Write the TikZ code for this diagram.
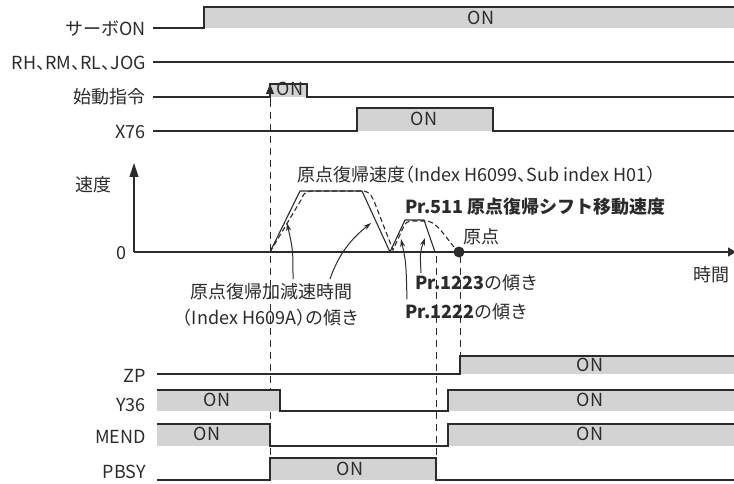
\documentclass[tikz,border=0pt]{standalone}
\usepackage{fontspec}
\setmainfont{Noto Sans CJK JP}
\usetikzlibrary{arrows.meta}
\definecolor{lineC}{HTML}{2B2B2B}
\definecolor{grayC}{HTML}{D3D3D3}
\newcommand\hw[1]{{\addfontfeature{RawFeature=+halt}#1}}
\begin{document}
\begin{tikzpicture}[x=1pt,y=-1pt,
  every node/.style={inner sep=0pt,text=lineC,font=\fontsize{18}{22}\selectfont},
  sig/.style={draw=lineC,line width=1.1pt},
  onfill/.style={fill=grayC},
  lbl/.style={anchor=east},
  vdash/.style={draw=lineC,line width=0.9pt,dash pattern=on 7pt off 5pt},
  prof/.style={draw=lineC,line width=1.1pt},
  profd/.style={draw=lineC,line width=1.1pt,dash pattern=on 5pt off 3pt},
  ann/.style={draw=lineC,line width=1pt,-{Stealth[length=8pt,width=5pt]}}]
\useasboundingbox (0,0) rectangle (734,484);
% ---- top signals
\fill[onfill] (204,7) rectangle (734,28);
\draw[sig] (153,28) -- (204,28) -- (204,7) -- (734,7);
\node[lbl] (lservo) at (146,29) {サーボON};
\node (onservo) at (481,18) {ON};
\draw[sig] (153,62) -- (734,62);
\node[lbl] (lrh) at (146,63) {RH\hw{、}RM\hw{、}RL\hw{、}JOG};
\fill[onfill] (270,84) rectangle (307,97);
\draw[sig] (153,97) -- (270,97) -- (270,84) -- (307,84) -- (307,97) -- (734,97);
\node[lbl] (lstart) at (146,97) {始動指令};
\node (onstart) at (290,89) {ON};
\fill[onfill] (357,108) rectangle (493,131);
\draw[sig] (153,131) -- (357,131) -- (357,108) -- (493,108) -- (493,131) -- (734,131);
\node[lbl] (lx76) at (146,132) {X76};
\node (onx76) at (424,119) {ON};
% ---- dashed verticals
\draw[vdash] (270,100) -- (270,458);
\draw[vdash] (436,256) -- (436,458);
\draw[vdash] (460,256) -- (460,356);
\coordinate (arrb) at (270,100);
\coordinate (arrt) at (270,84);
\draw[draw=lineC,line width=1pt,-{Triangle[length=10pt,width=8pt]}] (arrb) -- (arrt);
% ---- speed graph
\draw[draw=lineC,line width=1.1pt,-{Triangle[length=14pt,width=9pt]}] (134,252) -- (134,163);
\draw[draw=lineC,line width=1.1pt,-{Triangle[length=8pt,width=9pt]}] (134,252) -- (736,252);
\node (lspeed) at (93,185) {速度};
\node (lzero) at (121,253) {0};
\node (ltime) at (711,275) {時間};
\draw[prof] (270,252) -- (300,191) -- (362,191) -- (390,252) -- (405,220) -- (424,220) -- (435,252);
\draw[profd] (270,252) -- (301,200) .. controls (304,193) .. (311,191) -- (364,191)
  .. controls (370,193) .. (374,201) -- (393,250) -- (403,228)
  .. controls (406,222) .. (413,221) -- (428,221)
  .. controls (440,224) and (450,245) .. (459,252);
\fill[lineC] (459,252) circle (5.5);
\node[anchor=west] (lvel) at (297,175) {原点復帰速度\hw{（}Index H6099\hw{、}Sub index H01\hw{）}};
\node[anchor=west] (lpr511) at (405,207) {\textbf{Pr.511 原点復帰シフト移動速度}};
\node[anchor=west] (lorg) at (463,237) {原点};
\node[align=center,font=\fontsize{18}{26}\selectfont] (lacc) at (271,305) {原点復帰加減速時間\\\hw{（}Index H609A\hw{）}の傾き};
\node[anchor=west] (l1223) at (415,283) {\textbf{Pr.1223}の傾き};
\node[anchor=west] (l1222) at (405,312) {\textbf{Pr.1222}の傾き};
\coordinate (a1s) at (293,279);
\coordinate (a1e) at (287,223);
\coordinate (a2s) at (330,279);
\coordinate (a2e) at (371,223);
\coordinate (a3s) at (407,299);
\coordinate (a3e) at (401,239);
\coordinate (a4s) at (421,273);
\coordinate (a4e) at (425,238);
\draw[ann] (a1s) .. controls (293,250) .. (a1e);
\draw[ann] (a2s) .. controls (340,250) and (355,236) .. (a2e);
\draw[ann] (a3s) .. controls (406,262) .. (a3e);
\draw[ann] (a4s) .. controls (420,252) .. (a4e);
% ---- bottom signals
\fill[onfill] (460,356) rectangle (734,374);
\draw[sig] (157,374) -- (460,374) -- (460,356) -- (734,356);
\node[lbl] (lzp) at (146,376) {ZP};
\node (onzp) at (590,365) {ON};
\fill[onfill] (157,390) rectangle (280,411);
\fill[onfill] (448,390) rectangle (734,411);
\draw[sig] (157,390) -- (280,390) -- (280,411) -- (448,411) -- (448,390) -- (734,390);
\node[lbl] (ly36) at (146,405) {Y36};
\node (ony36a) at (217,400) {ON};
\node (ony36b) at (590,400) {ON};
\fill[onfill] (157,424) rectangle (270,446);
\fill[onfill] (448,424) rectangle (734,446);
\draw[sig] (157,424) -- (270,424) -- (270,446) -- (448,446) -- (448,424) -- (734,424);
\node[lbl] (lmend) at (146,437) {MEND};
\node (onmenda) at (207,434) {ON};
\node (onmendb) at (590,434) {ON};
\fill[onfill] (270,458) rectangle (436,480);
\draw[sig] (157,480) -- (270,480) -- (270,458) -- (436,458) -- (436,480) -- (734,480);
\node[lbl] (lpbsy) at (146,472) {PBSY};
\node (onpbsy) at (350,469) {ON};
\end{tikzpicture}
\end{document}
